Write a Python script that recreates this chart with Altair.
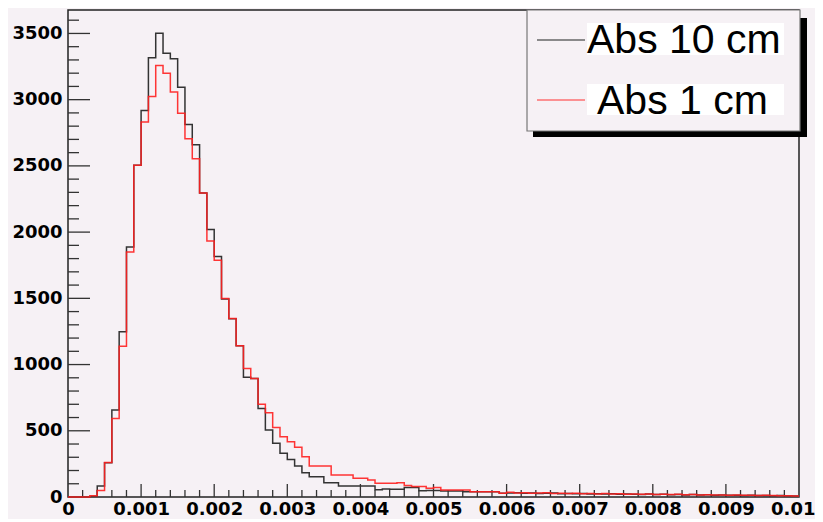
import altair as alt
import pandas as pd

# ---------------- data ----------------
bin_width = 0.0001
n_bins = 100
x_min, x_max = 0.0, 0.01
y_max = 3677

abs10_counts = [
    0, 0, 0, 5, 83, 259, 656, 1247, 1888, 2504,
    2919, 3316, 3502, 3351, 3308, 3094, 2813, 2660, 2295, 2020,
    1815, 1495, 1345, 1142, 905, 895, 669, 505, 405, 330,
    284, 234, 184, 153, 153, 108, 108, 83, 83, 83,
    83, 83, 55, 60, 58, 58, 71, 71, 48, 50,
    50, 45, 45, 45, 40, 40, 40, 40, 40, 28,
    30, 32, 28, 30, 26, 28, 30, 25, 27, 24,
    26, 22, 25, 23, 24, 20, 22, 21, 19, 22,
    18, 20, 17, 19, 16, 18, 15, 17, 14, 15,
    13, 14, 12, 13, 11, 12, 10, 11, 9, 8,
]
abs1_counts = [
    0, 0, 0, 10, 50, 260, 593, 1139, 1850, 2504,
    2831, 3024, 3258, 3200, 3057, 2898, 2705, 2554, 2295, 1933,
    1787, 1498, 1347, 1142, 970, 895, 701, 636, 525, 455,
    417, 375, 304, 234, 234, 234, 166, 166, 166, 141,
    141, 128, 103, 103, 103, 108, 86, 79, 79, 67,
    72, 53, 53, 53, 53, 40, 40, 40, 40, 28,
    35, 30, 32, 28, 30, 33, 27, 29, 26, 28,
    25, 27, 23, 26, 22, 24, 21, 23, 20, 22,
    19, 21, 18, 20, 17, 18, 16, 17, 15, 16,
    14, 15, 13, 14, 12, 13, 11, 10, 9, 8,
]

series_names = ["Abs 10 cm", "Abs 1 cm"]
series_colors = ["#333333", "#ff2020"]

x_major = [0, 0.001, 0.002, 0.003, 0.004, 0.005, 0.006, 0.007, 0.008, 0.009, 0.01]
x_minor = [round(i * 0.0002, 4) for i in range(1, 50) if i % 5 != 0]
y_major = [0, 500, 1000, 1500, 2000, 2500, 3000, 3500]
y_minor = [v for v in range(100, 3700, 100) if v % 500 != 0]

# ---------------- tables ----------------
def step_table(counts):
    xs = [round(i * bin_width, 5) for i in range(n_bins + 1)]
    ys = list(counts) + [counts[-1]]
    return pd.DataFrame({"x": xs, "y": ys})

W, H = 731, 487
bg = "#f6f1f5"

xscale = alt.Scale(domain=[x_min, x_max], nice=False, zero=False)
yscale = alt.Scale(domain=[0, y_max], nice=False)

label_kw = dict(labelFont="DejaVu Sans", labelFontWeight="bold", labelFontSize=18,
                labelColor="black", ticks=False, tickSize=0, domain=False, grid=False,
                title=None, labelOverlap=False, labelFlush=False, labelBound=False)
xaxis = alt.Axis(
    values=x_major, format="~g", labelPadding=3,
    labelAlign={"condition": {"test": "datum.value >= 0.0099", "value": "right"}, "value": "center"},
    labelOffset={"condition": {"test": "datum.value >= 0.0099", "value": 16}, "value": 0},
    **label_kw)
yaxis = alt.Axis(values=y_major, format="d", labelPadding=6, **label_kw)

def X(field="x"):
    return alt.X(f"{field}:Q", scale=xscale, axis=xaxis)

def Y(field="y"):
    return alt.Y(f"{field}:Q", scale=yscale, axis=yaxis)

tick_color = "#333333"
xmaj = alt.Chart(pd.DataFrame({"x": x_major[1:-1]})).mark_rule(color=tick_color, strokeWidth=1.3).encode(
    x=X(), y=alt.value(H), y2=alt.value(H - 13))
xmin = alt.Chart(pd.DataFrame({"x": x_minor})).mark_rule(color=tick_color, strokeWidth=1.3).encode(
    x=X(), y=alt.value(H), y2=alt.value(H - 7))
ymaj = alt.Chart(pd.DataFrame({"y": y_major[1:]})).mark_rule(color=tick_color, strokeWidth=1.3).encode(
    y=Y(), x=alt.value(0), x2=alt.value(22))
ymin = alt.Chart(pd.DataFrame({"y": y_minor})).mark_rule(color=tick_color, strokeWidth=1.3).encode(
    y=Y(), x=alt.value(0), x2=alt.value(11))

line10 = alt.Chart(step_table(abs10_counts)).mark_line(
    interpolate="step-after", color=series_colors[0], strokeWidth=1.5).encode(x=X(), y=Y())
line1 = alt.Chart(step_table(abs1_counts)).mark_line(
    interpolate="step-after", color=series_colors[1], strokeWidth=1.5, opacity=0.9).encode(x=X(), y=Y())

one = pd.DataFrame({"k": [0]})
shadow = alt.Chart(one).mark_rect(color="black", clip=False).encode(
    x=alt.value(465), x2=alt.value(739), y=alt.value(8), y2=alt.value(127))
box = alt.Chart(one).mark_rect(fill=bg, stroke="#777777", strokeWidth=1.2, clip=False).encode(
    x=alt.value(459), x2=alt.value(732), y=alt.value(0), y2=alt.value(121))
wb1 = alt.Chart(one).mark_rect(color="white").encode(
    x=alt.value(519), x2=alt.value(716), y=alt.value(13), y2=alt.value(45))
wb2 = alt.Chart(one).mark_rect(color="white").encode(
    x=alt.value(519), x2=alt.value(716), y=alt.value(74), y2=alt.value(105))
lg1 = alt.Chart(one).mark_rule(color="#666666", strokeWidth=1.5).encode(
    x=alt.value(469), x2=alt.value(517), y=alt.value(30))
lg2 = alt.Chart(one).mark_rule(color="#ff3030", strokeWidth=1.2).encode(
    x=alt.value(469), x2=alt.value(517), y=alt.value(90))
txt_kw = dict(font="Liberation Sans", fontSize=41, align="left", baseline="alphabetic", color="black")
t1 = alt.Chart(one).mark_text(text=series_names[0], **txt_kw).encode(x=alt.value(519), y=alt.value(43))
t2 = alt.Chart(one).mark_text(text=series_names[1], **txt_kw).encode(x=alt.value(529), y=alt.value(104))

chart = alt.layer(
    xmin, xmaj, ymin, ymaj, line10, line1,
    shadow, box, wb1, wb2, lg1, lg2, t1, t2,
).properties(
    width=W, height=H,
    padding={"left": 60, "top": 2, "right": 16, "bottom": 22},
    autosize=alt.AutoSizeParams(type="none"),
    background=bg,
).configure_view(
    stroke="#222222", strokeWidth=1.5, fill=bg,
)

chart.save("out.html", embed_options={"renderer": "svg", "actions": False})
